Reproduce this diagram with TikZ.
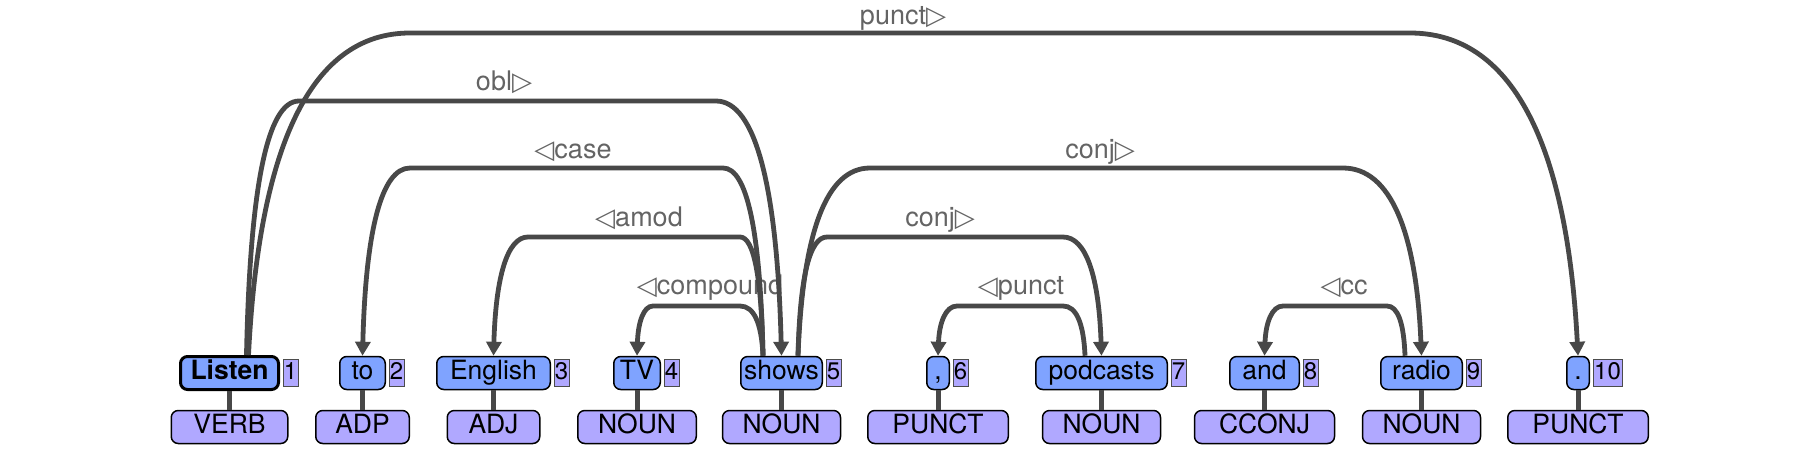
\documentclass[tikz,border=0pt]{standalone}
\usepackage{fontspec}
\setmainfont{TeX Gyre Heros}
\newfontfamily\symf{DejaVu Sans}
\usetikzlibrary{arrows.meta,positioning}
\definecolor{wordfill}{RGB}{127,163,255}
\definecolor{posfill}{RGB}{176,168,255}
\definecolor{arccol}{RGB}{72,72,72}
\definecolor{labcol}{RGB}{100,100,100}
\newcommand\deparc[7]{%
  \pgfmathsetmacro\dsgn{(#4>#2)*2-1}%
  \pgfmathsetmacro\dya{(356+2*#5)/3}%
  \pgfmathsetmacro\dhca{#2+\dsgn*#6/15}%
  \pgfmathsetmacro\dhcb{#2+\dsgn*0.4*#6}%
  \pgfmathsetmacro\dhc{#2+\dsgn*#6}%
  \pgfmathsetmacro\ddc{#4-\dsgn*#7}%
  \pgfmathsetmacro\ddcb{#4-\dsgn*0.4*#7}%
  \pgfmathsetmacro\ddca{#4-\dsgn*#7/15}%
  \draw[arcline] (#1) .. controls (\dhca,\dya) and (\dhcb,#5) .. (\dhc,#5) -- (\ddc,#5) .. controls (\ddcb,#5) and (\ddca,\dya) .. (#3);%
}
\newcommand\lt{{\symf\fontsize{26}{28}\selectfont ◁}}
\newcommand\rt{{\symf\fontsize{26}{28}\selectfont ▷}}
\begin{document}
\begin{tikzpicture}[x=1pt,y=-1pt,
  wbox/.style={draw=black, line width=1.5pt, fill=wordfill, rounded corners=7pt, inner sep=0pt, minimum height=33pt, text height=19pt, text depth=6pt, font=\fontsize{26.5}{30}\selectfont},
  ibox/.style={draw=black!70, line width=1pt, fill=posfill, inner sep=0pt, minimum height=27pt, minimum width=15pt, text height=18pt, text depth=5pt, font=\fontsize{24}{28}\selectfont},
  pbox/.style={draw=black, line width=1.5pt, fill=posfill, rounded corners=7pt, inner sep=0pt, minimum height=33pt, text height=19pt, text depth=6pt, font=\fontsize{26.5}{30}\selectfont},
  stem/.style={draw=arccol, line width=5pt},
  arcline/.style={draw=arccol, line width=4.8pt, -{Triangle[length=14pt,width=15pt]}},
  lab/.style={text=labcol, anchor=base, inner sep=0pt, font=\fontsize{27}{30}\selectfont},
]
\useasboundingbox (0,0) rectangle (1820,448);
% labels
\node[lab] (l1) at (710,294) {\lt compound};
\node[lab] (l2) at (639,226) {\lt amod};
\node[lab] (l3) at (573,158) {\lt case};
\node[lab] (l4) at (504,90) {obl\rt};
\node[lab] (l5) at (903,24) {punct\rt};
\node[lab] (l6) at (940,226) {conj\rt};
\node[lab] (l7) at (1100,158) {conj\rt};
\node[lab] (l8) at (1021,294) {\lt punct};
\node[lab] (l9) at (1344,294) {\lt cc};
% words
\node[wbox, line width=3pt, font=\fontsize{26.5}{30}\selectfont\bfseries, minimum width=98pt] (w1) at (229.5,373) {Listen};
\node[wbox, minimum width=45.5pt] (w2) at (362.5,373) {to};
\node[wbox, minimum width=113.5pt] (w3) at (493.5,373) {English};
\node[wbox, minimum width=46.5pt] (w4) at (637,373) {TV};
\node[wbox, minimum width=81.5pt] (w5) at (781.5,373) {shows};
\node[wbox, minimum width=22.5pt] (w6) at (938,373) {,};
\node[wbox, minimum width=131.5pt] (w7) at (1101.5,373) {podcasts};
\node[wbox, minimum width=69.5pt] (w8) at (1264.5,373) {and};
\node[wbox, minimum width=81.5pt] (w9) at (1421.5,373) {radio};
\node[wbox, minimum width=22.5pt] (w10) at (1578,373) {.};
% indices
\node[ibox, right=2.5pt of w1] (i1) {1};
\node[ibox, right=2.5pt of w2] (i2) {2};
\node[ibox, right=2.5pt of w3] (i3) {3};
\node[ibox, right=2.5pt of w4] (i4) {4};
\node[ibox, right=2.5pt of w5] (i5) {5};
\node[ibox, right=2.5pt of w6] (i6) {6};
\node[ibox, right=2.5pt of w7] (i7) {7};
\node[ibox, right=2.5pt of w8] (i8) {8};
\node[ibox, right=2.5pt of w9] (i9) {9};
\node[ibox, right=2.5pt of w10, minimum width=29pt] (i10) {10};
% POS
\node[pbox, minimum width=116.5pt] (p1) at (229.5,427) {VERB};
\node[pbox, minimum width=93.5pt] (p2) at (362.5,427) {ADP};
\node[pbox, minimum width=92.5pt] (p3) at (493.5,427) {ADJ};
\node[pbox, minimum width=118.5pt] (p4) at (637,427) {NOUN};
\node[pbox, minimum width=118pt] (p5) at (781.5,427) {NOUN};
\node[pbox, minimum width=140.5pt] (p6) at (938,427) {PUNCT};
\node[pbox, minimum width=118pt] (p7) at (1101.5,427) {NOUN};
\node[pbox, minimum width=140pt] (p8) at (1264.5,427) {CCONJ};
\node[pbox, minimum width=118pt] (p9) at (1421.5,427) {NOUN};
\node[pbox, minimum width=140.5pt] (p10) at (1578,427) {PUNCT};
% stems
\foreach \k in {1,...,10} \draw[stem] (w\k) -- (p\k);
% departure points
\coordinate (w1a) at ([xshift=17pt]w1.north);
\coordinate (w1b) at ([xshift=19pt]w1.north);
\coordinate (w5l) at ([xshift=-18.5pt]w5.north);
\coordinate (w5r) at ([xshift=16.5pt]w5.north);
\coordinate (w7l) at ([xshift=-16.5pt]w7.north);
\coordinate (w9l) at ([xshift=-16.5pt]w9.north);
% arcs
\deparc{w5l}{763}{w4.north}{637}{306}{23}{16}
\deparc{w5l}{763}{w3.north}{493.5}{237}{23}{34.5}
\deparc{w5l}{763}{w2.north}{362.5}{168}{40}{47.5}
\deparc{w1a}{246.5}{w5.north}{781.5}{101}{52.5}{65.5}
\deparc{w1b}{248.5}{w10.north}{1578}{33}{161.5}{168}
\deparc{w5r}{798}{w7.north}{1101.5}{237}{29}{38.5}
\deparc{w5r}{798}{w9.north}{1421.5}{168}{72}{78.5}
\deparc{w7l}{1085}{w6.north}{938}{306}{22}{19}
\deparc{w9l}{1405}{w8.north}{1264.5}{306}{18}{18.5}
\end{tikzpicture}
\end{document}
